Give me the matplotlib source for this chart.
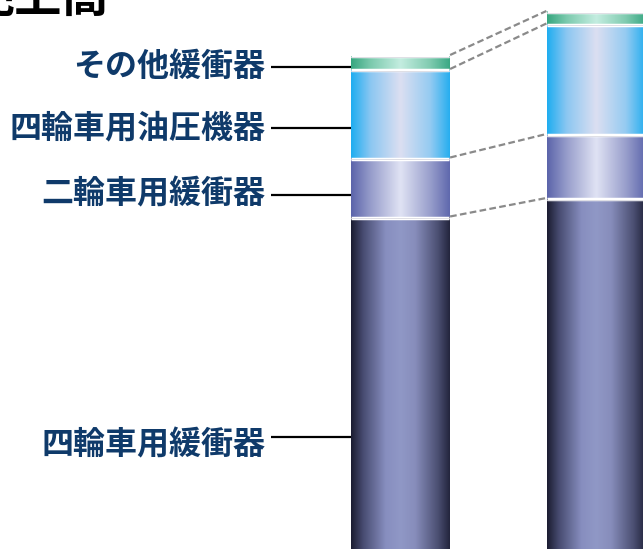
import numpy as np
import matplotlib
matplotlib.use("Agg")
import matplotlib.pyplot as plt
from matplotlib.colors import LinearSegmentedColormap

plt.rcParams['font.family'] = ['Noto Sans CJK JP', 'DejaVu Sans']

# ---- data (arbitrary units) ----
categories = ["A", "B"]
series_names = ["四輪車用緩衝器", "二輪車用緩衝器", "四輪車用油圧機器", "その他緩衝器"]
auto_shock = [531.5, 550.0]
moto_shock = [59.0, 64.0]
auto_hydraulic = [88.5, 110.5]
other_shock = [14.0, 12.5]
label_anchor = [312.0, 554.0, 621.0, 682.0]   # y of leader lines (data units)
label_text_y = [304.0, 555.0, 621.0, 682.0]
title_text = "売上高"

series = [auto_shock, moto_shock, auto_hydraulic, other_shock]

# gradient colour stops (left, ..., right)
grads = [
    [(0.0, "#1b1c31"), (0.12, "#474b70"), (0.35, "#878ebf"), (0.5, "#9098c6"),
     (0.65, "#878dbb"), (0.88, "#4b4f72"), (1.0, "#23253d")],
    [(0.0, "#5b64aa"), (0.2, "#979dcb"), (0.5, "#e0e3f4"), (0.8, "#999fcc"), (1.0, "#5f68ad")],
    [(0.0, "#1eadf0"), (0.2, "#8cc7f2"), (0.5, "#dcdff1"), (0.8, "#95cbf2"), (1.0, "#26aeef")],
    [(0.0, "#36a67f"), (0.2, "#7ccaae"), (0.5, "#c4ede0"), (0.8, "#80cbb0"), (1.0, "#3aa884")],
]

fig = plt.figure(figsize=(6.43, 5.49), dpi=100)
ax = fig.add_axes([0, 0, 1, 1])
px = 196.5  # pixels per category unit
x_left = -400.0 / px
ax.set_xlim(x_left, x_left + 643.0 / px)
ax.set_ylim(200, 749)
ax.axis("off")

width = 0.5
x = np.arange(len(categories))
bottoms = np.zeros(len(categories))
tops_all = []
grad = np.linspace(0, 1, 256).reshape(1, -1)
for vals, stops in zip(series, grads):
    vals = np.array(vals)
    cmap = LinearSegmentedColormap.from_list("g", stops)
    bars = ax.bar(x, vals, width, bottom=bottoms, color="none", edgecolor="none")
    for b in bars:
        x0, y0 = b.get_x(), b.get_y()
        w, h = b.get_width(), b.get_height()
        ax.imshow(grad, cmap=cmap, aspect="auto", extent=[x0, x0 + w, y0, y0 + h],
                  interpolation="bicubic", zorder=1)
        ax.plot([x0, x0 + w], [y0 + h, y0 + h], color="white", lw=2.5, zorder=3,
                solid_capstyle="butt")
        ax.plot([x0, x0 + w], [y0 + h - 0.9, y0 + h - 0.9], color="#d9d9e0", lw=0.6, zorder=3)
    bottoms = bottoms + vals
    tops_all.append(bottoms.copy())

ax.set_xlim(x_left, x_left + 643.0 / px)
ax.set_ylim(200, 749)

# dashed connectors between bars
for tops in tops_all:
    ax.plot([x[0] + width / 2 + 0.005, x[1] - width / 2 - 0.005], [tops[0] + 1, tops[1] + 1],
            ls=(0, (3, 1.5)), color="#8a8a8a", lw=1.6, zorder=4)

# labels with leader lines
tx = x_left + 265.0 / px
lx0 = x_left + 271.0 / px
lx1 = x[0] - width / 2
for name, ly, ty in zip(series_names, label_anchor, label_text_y):
    ax.plot([lx0, lx1], [ly, ly], color="black", lw=1.6, zorder=5, solid_capstyle="butt")
    ax.text(tx, ty, name, ha="right", va="center", fontsize=23, fontweight="bold",
            color="#0f3a6a", zorder=5)

# partially visible title (cut off at the top edge, as in the reference)
fig.text(109 / 643, 1 - 12 / 549, title_text, ha="right", va="baseline", fontsize=34,
         fontweight="bold", color="black")

fig.savefig("out.png", dpi=100)
